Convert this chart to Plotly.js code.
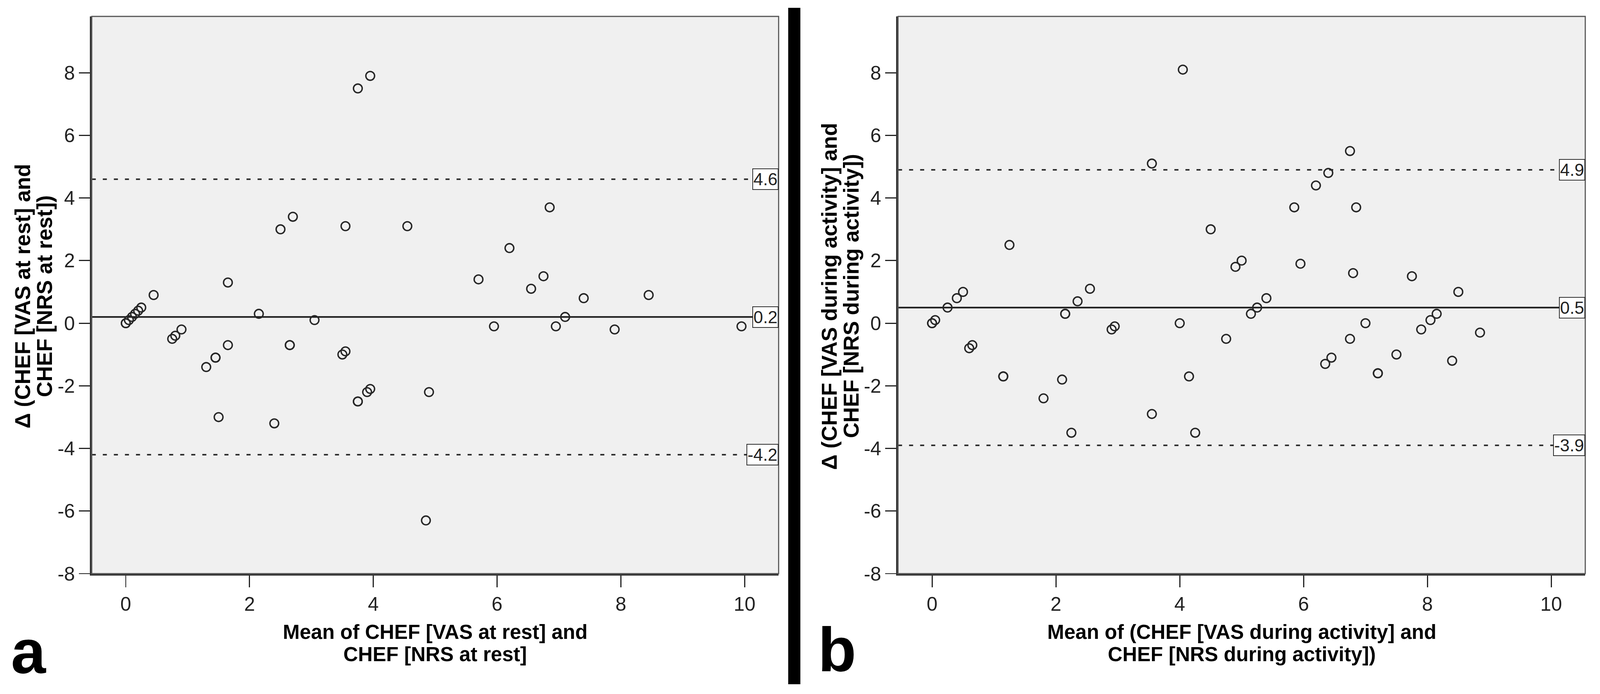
<!DOCTYPE html>
<html>
<head>
<meta charset="utf-8">
<script src="https://cdn.plot.ly/plotly-3.0.1.min.js"></script>
<style>html,body{margin:0;padding:0;background:#fff;overflow:hidden}#chart{width:100vw;height:100vh}</style>
</head>
<body>
<div id="chart"></div>
<script>
// panel a: CHEF VAS vs NRS at rest (mean of both, difference)
const restMean = [0, 0, 0.05, 0.1, 0.15, 0.2, 0.25, 0.45, 0.75, 0.8, 0.9, 1.3, 1.45, 1.45, 1.5, 1.65, 1.65,
    2.15, 2.4, 2.5, 2.7, 2.65, 2.65, 3.05, 3.55, 3.5, 3.55, 3.75, 3.95, 4.55, 3.75, 3.75, 3.9, 3.95,
    4.9, 4.85, 5.7, 5.95, 6.2, 6.55, 6.75, 6.85, 6.95, 7.1, 7.4, 7.9, 8.45, 9.95];
const restDiff = [0, 0, 0.1, 0.2, 0.3, 0.4, 0.5, 0.9, -0.5, -0.4, -0.2, -1.4, -1.1, -1.1, -3.0, 1.3, -0.7,
    0.3, -3.2, 3.0, 3.4, -0.7, -0.7, 0.1, 3.1, -1.0, -0.9, 7.5, 7.9, 3.1, -2.5, -2.5, -2.2, -2.1,
    -2.2, -6.3, 1.4, -0.1, 2.4, 1.1, 1.5, 3.7, -0.1, 0.2, 0.8, -0.2, 0.9, -0.1];

// panel b: CHEF VAS vs NRS during activity
const actMean = [0, 0, 0.05, 0.25, 0.4, 0.5, 0.6, 0.65, 1.15, 1.15, 1.25, 1.8, 2.1, 2.15, 2.15, 2.25, 2.35,
    2.55, 2.9, 2.95, 3.55, 3.55, 4.0, 4.05, 4.15, 4.25, 4.5, 4.75, 4.9, 5.0, 5.15, 5.25, 5.4, 5.85,
    5.95, 6.2, 6.35, 6.4, 6.45, 6.75, 6.75, 6.8, 6.85, 7.0, 7.2, 7.2, 7.5, 7.75, 7.9, 8.05, 8.15,
    8.4, 8.5, 8.85];
const actDiff = [0, 0, 0.1, 0.5, 0.8, 1.0, -0.8, -0.7, -1.7, -1.7, 2.5, -2.4, -1.8, 0.3, 0.3, -3.5, 0.7,
    1.1, -0.2, -0.1, 5.1, -2.9, 0.0, 8.1, -1.7, -3.5, 3.0, -0.5, 1.8, 2.0, 0.3, 0.5, 0.8, 3.7,
    1.9, 4.4, -1.3, 4.8, -1.1, 5.5, -0.5, 1.6, 3.7, 0.0, -1.6, -1.6, -1.0, 1.5, -0.2, 0.1, 0.3,
    -1.2, 1.0, -0.3];

// upper limit, mean difference, lower limit
const restLines = [4.6, 0.2, -4.2];
const actLines = [4.9, 0.5, -3.9];

const xTicks = [0, 2, 4, 6, 8, 10];
const yTicks = [-8, -6, -4, -2, 0, 2, 4, 6, 8];

const restXTitle = ['Mean of CHEF [VAS at rest] and', 'CHEF [NRS at rest]'];
const restYTitle = ['Δ (CHEF [VAS at rest] and', 'CHEF [NRS at rest])'];
const actXTitle = ['Mean of (CHEF [VAS during activity] and', 'CHEF [NRS during activity])'];
const actYTitle = ['Δ (CHEF [VAS during activity] and', 'CHEF [NRS during activity])'];
const panelLabels = ['a', 'b'];

// design size; positions are fractions of it, stretched to the real window
const W = 4342, H = 1776;
const VW = window.innerWidth || W, VH = window.innerHeight || H;
const SX = VW / W, SY = VH / H;
const S = Math.min(SX, SY);
const px = v => v * S;

const SANS = 'Liberation Sans, Arial, Helvetica, sans-serif';

function scatter(x, y, xa, ya) {
    return {
        type: 'scatter',
        mode: 'markers',
        x: x,
        y: y,
        xaxis: xa,
        yaxis: ya,
        marker: {
            symbol: 'circle-open',
            size: 23 * Math.sqrt(SX * SY),
            color: '#262626',
            line: {width: px(3.8), color: '#262626'}
        },
        hoverinfo: 'x+y',
        showlegend: false
    };
}

function axisX(domain, anchor) {
    return {
        domain: domain,
        anchor: anchor,
        range: [-0.55, 10.55],
        tickvals: xTicks,
        ticktext: xTicks.map(String),
        ticks: 'outside',
        ticklen: 30 * SY,
        tickwidth: px(3),
        tickcolor: '#222',
        showline: true,
        linewidth: px(5),
        linecolor: '#333',
        showgrid: false,
        zeroline: false,
        tickfont: {family: SANS, size: 53 * S, color: '#222'},
        fixedrange: true
    };
}

function axisY(anchor) {
    return {
        domain: [1 - 1468 / H, 1 - 42 / H],
        anchor: anchor,
        range: [-8, 9.8],
        tickvals: yTicks,
        ticktext: yTicks.map(String),
        ticks: 'outside',
        ticklen: 30 * SX,
        tickwidth: px(3),
        tickcolor: '#222',
        showline: true,
        linewidth: px(5),
        linecolor: '#333',
        showgrid: false,
        zeroline: false,
        tickfont: {family: SANS, size: 53 * S, color: '#222'},
        fixedrange: true
    };
}

// frame, mean line and limits of agreement for one panel
function panelShapes(xa, ya, lines) {
    const xd = xa + ' domain', yd = ya + ' domain';
    const out = [{
        type: 'rect', xref: xd, yref: yd, x0: 0, x1: 1, y0: 0, y1: 1,
        line: {color: '#555', width: px(3)}, layer: 'above'
    }];
    lines.forEach(function (v, i) {
        out.push({
            type: 'line', xref: xd, yref: ya, x0: 0, x1: 1, y0: v, y1: v,
            line: {
                color: '#222', width: px(i === 1 ? 4.5 : 4),
                dash: i === 1 ? 'solid' : (11 * SX) + 'px,' + (19 * SX) + 'px'
            },
            layer: 'below'
        });
    });
    return out;
}

function panelAnnotations(xa, ya, lines) {
    return lines.map(function (v) {
        return {
            xref: xa + ' domain', yref: ya, x: 1, y: v,
            xanchor: 'right', yanchor: 'middle',
            text: v.toFixed(1), showarrow: false,
            bgcolor: '#fff', bordercolor: '#222', borderwidth: px(2), borderpad: px(1),
            font: {family: SANS, size: px(47), color: '#222'}
        };
    });
}

// one line of an axis title; horizontal lines scale with the width,
// rotated lines with the height, so their length keeps to the plot
function textLine(text, x, y, angle) {
    return {
        xref: 'paper', yref: 'paper', x: x / W, y: 1 - y / H,
        xanchor: 'center', yanchor: 'middle',
        text: '<b>' + text + '</b>', showarrow: false, textangle: angle,
        font: {family: SANS, size: 55 * (angle ? SY : SX), color: '#000'}
    };
}

const xDomA = [249 / W, 2113 / W];
const xDomB = [2437 / W, 4302 / W];

const data = [
    scatter(restMean, restDiff, 'x', 'y'),
    scatter(actMean, actDiff, 'x2', 'y2')
];

const shapes = [].concat(
    panelShapes('x', 'y', restLines),
    panelShapes('x2', 'y2', actLines),
    [{
        // divider bar between the two panels
        type: 'rect', xref: 'paper', yref: 'paper',
        x0: 2139 / W, x1: 2172 / W, y0: 1 - 1751 / H, y1: 1 - 20 / H,
        fillcolor: '#000', line: {width: 0}
    }]
);

const annotations = [].concat(
    panelAnnotations('x', 'y', restLines),
    panelAnnotations('x2', 'y2', actLines),
    [
        textLine(restXTitle[0], 1181, 1617, 0),
        textLine(restXTitle[1], 1181, 1674, 0),
        textLine(restYTitle[0], 62, 758, -90),
        textLine(restYTitle[1], 121, 758, -90),
        textLine(actXTitle[0], 3370, 1617, 0),
        textLine(actXTitle[1], 3370, 1674, 0),
        textLine(actYTitle[0], 2251, 758, -90),
        textLine(actYTitle[1], 2310, 758, -90)
    ],
    [
        {
            xref: 'paper', yref: 'paper', x: 28 / W, y: 1 - 1758 / H,
            xanchor: 'left', yanchor: 'bottom', showarrow: false,
            text: '<b>' + panelLabels[0] + '</b>',
            font: {family: SANS, size: px(170), color: '#000'}
        },
        {
            xref: 'paper', yref: 'paper', x: 2218 / W, y: 1 - 1754 / H,
            xanchor: 'left', yanchor: 'bottom', showarrow: false,
            text: '<b>' + panelLabels[1] + '</b>',
            font: {family: SANS, size: px(170), color: '#000'}
        }
    ]
);

Plotly.newPlot('chart', data, {
    width: VW,
    height: VH,
    margin: {l: 0, r: 0, t: 0, b: 0},
    paper_bgcolor: '#fff',
    plot_bgcolor: '#f0f0f0',
    xaxis: axisX(xDomA, 'y'),
    yaxis: axisY('x'),
    xaxis2: axisX(xDomB, 'y2'),
    yaxis2: axisY('x2'),
    shapes: shapes,
    annotations: annotations,
    showlegend: false
}, {
    displayModeBar: false,
    staticPlot: true
});
</script>
</body>
</html>
